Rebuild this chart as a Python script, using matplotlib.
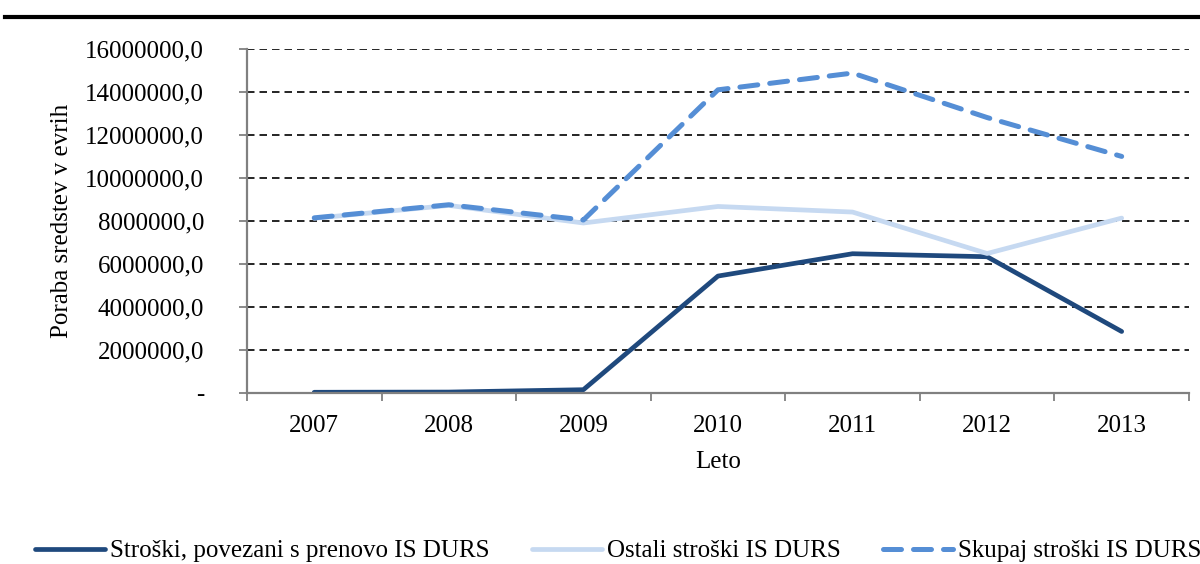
import matplotlib.pyplot as plt
import numpy as np

plt.rcParams['font.family'] = ['Liberation Serif', 'DejaVu Serif']

years = ['2007', '2008', '2009', '2010', '2011', '2012', '2013']
prenova = [20000, 30000, 140000, 5430000, 6470000, 6330000, 2850000]
ostali = [8120000, 8720000, 7900000, 8670000, 8410000, 6480000, 8130000]
skupaj = [8140000, 8750000, 8040000, 14100000, 14880000, 12810000, 11000000]
labels = ['Stroški, povezani s prenovo IS DURS', 'Ostali stroški IS DURS',
          'Skupaj stroški IS DURS']
yticks = np.arange(0, 16000001, 2000000)

fs = 18

fig = plt.figure(figsize=(12, 5.64), dpi=100)
ax = fig.add_axes([0.2058, 0.3037, 0.785, 0.6094])

x = np.arange(len(years))
ax.plot(x, prenova, color='#1f497d', lw=3.4, solid_capstyle='round', label=labels[0])
ax.plot(x, ostali, color='#c6d9f1', lw=3.4, solid_capstyle='round', label=labels[1])
ax.plot(x, skupaj, color='#558ed5', lw=3.6, ls=(0, (3.6, 2.4)),
        dash_capstyle='round', label=labels[2])

ax.set_xlim(-0.5, 6.5)
ax.set_ylim(0, 16000000)
ax.set_xticks(x)
ax.set_xticklabels(years)
ax.set_xticks(np.arange(-0.5, 7, 1), minor=True)
ax.tick_params(axis='x', which='major', length=0, pad=16, labelsize=fs)
ax.tick_params(axis='x', which='minor', length=6, color='#808080', width=1.3)
ax.set_yticks(yticks)
ax.set_yticklabels(['-'] + ['%d,0' % v for v in yticks[1:]])
ax.tick_params(axis='y', length=6, color='#808080', width=1.3, pad=25, labelsize=fs)

ax.yaxis.grid(True, color='black', ls=(0, (4.5, 3)), lw=1.2)
ax.set_axisbelow(True)
for s in ['top', 'right']:
    ax.spines[s].set_visible(False)
for s in ['left', 'bottom']:
    ax.spines[s].set_color('#808080')
    ax.spines[s].set_linewidth(1.6)

ax.set_xlabel('Leto', fontsize=fs, labelpad=10)
ax.set_ylabel('Poraba sredstev v evrih', fontsize=fs, labelpad=9)

fig.legend(loc='center', bbox_to_anchor=(0.515, 0.023), ncol=3, frameon=False,
           fontsize=fs, handlelength=2.8, handletextpad=0.2, columnspacing=1.7)

# thick rule at top of the page
fig.add_artist(plt.Line2D([0.004, 1.0], [0.97, 0.97], color='black', lw=3,
                          transform=fig.transFigure))

fig.savefig('out.png', dpi=100)
